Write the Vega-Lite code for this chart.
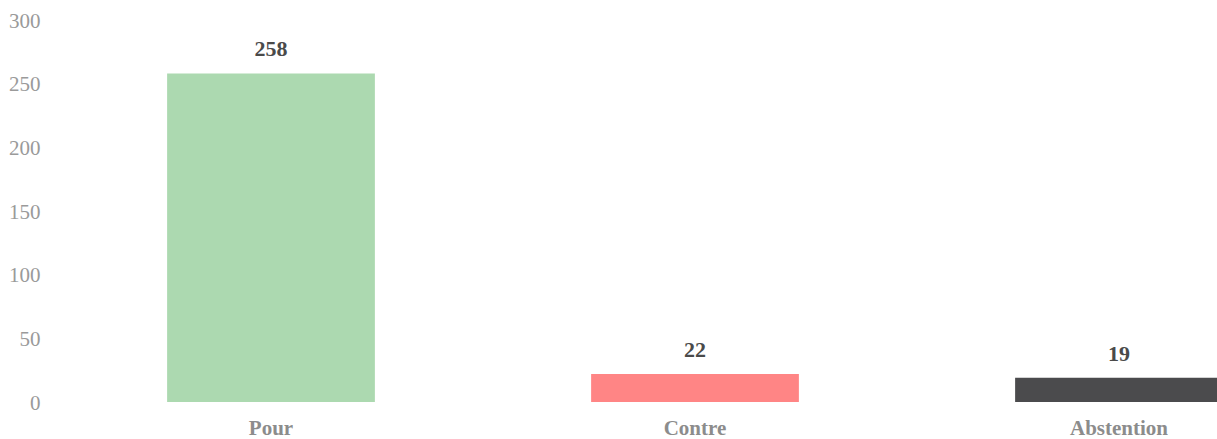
{
  "$schema": "https://vega.github.io/schema/vega-lite/v6.json",
  "autosize": {"type": "none"},
  "padding": {"left": 59, "top": 20, "right": 0, "bottom": 37},
  "width": 1272,
  "height": 382,
  "background": "white",
  "config": {"view": {"stroke": null}},
  "data": {"values": [
    {"vote": "Pour", "n": 258},
    {"vote": "Contre", "n": 22},
    {"vote": "Abstention", "n": 19}
  ]},
  "encoding": {
    "x": {"field": "vote", "type": "nominal", "sort": null,
      "scale": {"paddingInner": 0.51, "paddingOuter": 0.255},
      "axis": {"title": null, "domain": false, "ticks": false, "labelAngle": 0,
        "labelFont": "Liberation Serif", "labelFontSize": 21, "labelFontWeight": "bold",
        "labelColor": "#8c8c8c", "labelPadding": 15}},
    "y": {"field": "n", "type": "quantitative",
      "scale": {"domain": [0, 300], "nice": false},
      "axis": {"title": null, "domain": false, "ticks": false, "grid": false,
        "values": [0, 50, 100, 150, 200, 250, 300],
        "labelFont": "Liberation Serif", "labelFontSize": 21, "labelColor": "#9a9a9a",
        "labelPadding": 19, "labelOffset": 1}}
  },
  "layer": [
    {"mark": {"type": "bar"},
      "encoding": {"color": {"field": "vote", "type": "nominal", "legend": null,
        "scale": {"domain": ["Pour", "Contre", "Abstention"], "range": ["#acd9b0", "#ff8585", "#4b4b4d"]}}}},
    {"mark": {"type": "text", "dy": -24, "font": "Liberation Serif", "fontSize": 22, "fontWeight": "bold", "color": "#4a4a4a"},
      "encoding": {"text": {"field": "n", "type": "quantitative"}}}
  ]
}
